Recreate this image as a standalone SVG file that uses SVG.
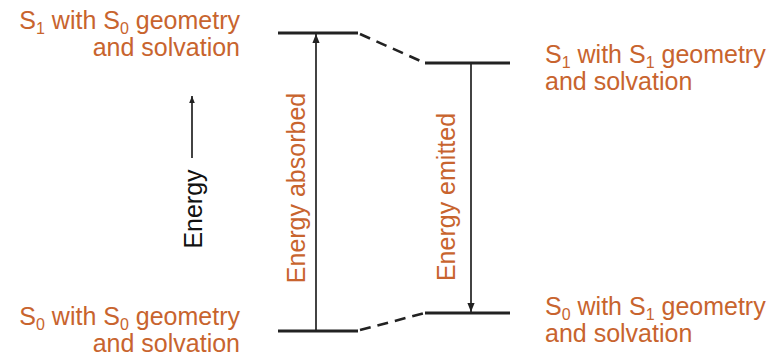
<svg xmlns="http://www.w3.org/2000/svg" width="783" height="357" viewBox="0 0 783 357">
<style>
.lbl{font-family:"Liberation Sans",Arial,sans-serif;font-size:25px;fill:#c8642e}
.sub{font-size:16px}
.lvl{stroke:#222;stroke-width:2.8;fill:none}
.dash{stroke:#222;stroke-width:2.6;fill:none;stroke-dasharray:11,7}
.arr{stroke:#222;stroke-width:1.7;fill:none}
.blk{font-family:"Liberation Sans",Arial,sans-serif;font-size:25px;fill:#111}
</style>
<defs>
<marker id="ah" viewBox="0 0 10 10" refX="10" refY="5" markerWidth="8" markerHeight="7" orient="auto" markerUnits="userSpaceOnUse">
<path d="M0,1 L10,5 L0,9 Z" fill="#222"/>
</marker>
<marker id="ah2" viewBox="0 0 10 10" refX="10" refY="5" markerWidth="10" markerHeight="9" orient="auto" markerUnits="userSpaceOnUse">
<path d="M0,1 L10,5 L0,9 Z" fill="#222"/>
</marker>
</defs>
<g id="node-s1-s0">
<text class="lbl" x="240" y="29" text-anchor="end">S<tspan class="sub" dy="5">1</tspan><tspan dy="-5"> with S</tspan><tspan class="sub" dy="5">0</tspan><tspan dy="-5"> geometry</tspan><tspan x="240" dy="27">and solvation</tspan></text>
<line class="lvl" x1="278" y1="33" x2="358" y2="33"/>
</g>
<g id="node-s1-s1">
<text class="lbl" x="545" y="63">S<tspan class="sub" dy="5">1</tspan><tspan dy="-5"> with S</tspan><tspan class="sub" dy="5">1</tspan><tspan dy="-5"> geometry</tspan><tspan x="545" dy="27">and solvation</tspan></text>
<line class="lvl" x1="425" y1="63" x2="510" y2="63"/>
</g>
<g id="node-s0-s0">
<text class="lbl" x="240" y="325" text-anchor="end">S<tspan class="sub" dy="5">0</tspan><tspan dy="-5"> with S</tspan><tspan class="sub" dy="5">0</tspan><tspan dy="-5"> geometry</tspan><tspan x="240" dy="27">and solvation</tspan></text>
<line class="lvl" x1="278" y1="331" x2="358" y2="331"/>
</g>
<g id="node-s0-s1">
<text class="lbl" x="545" y="315">S<tspan class="sub" dy="5">0</tspan><tspan dy="-5"> with S</tspan><tspan class="sub" dy="5">1</tspan><tspan dy="-5"> geometry</tspan><tspan x="545" dy="27">and solvation</tspan></text>
<line class="lvl" x1="425" y1="313" x2="510" y2="313"/>
</g>
<g id="axis">
<line class="arr" x1="192" y1="158" x2="192" y2="96" marker-end="url(#ah)"/>
<text class="blk" transform="translate(202,209) rotate(-90)" text-anchor="middle">Energy</text>
</g>
<g id="connectors">
<line class="dash" x1="360" y1="34" x2="425" y2="63"/>
<line class="dash" x1="360" y1="330" x2="425" y2="313"/>
<line class="arr" x1="316" y1="331" x2="316" y2="34" marker-end="url(#ah2)"/>
<line class="arr" x1="471" y1="63" x2="471" y2="312" marker-end="url(#ah2)"/>
<text class="lbl" transform="translate(305,188) rotate(-90)" text-anchor="middle">Energy absorbed</text>
<text class="lbl" transform="translate(455,197) rotate(-90)" text-anchor="middle">Energy emitted</text>
</g>
</svg>
